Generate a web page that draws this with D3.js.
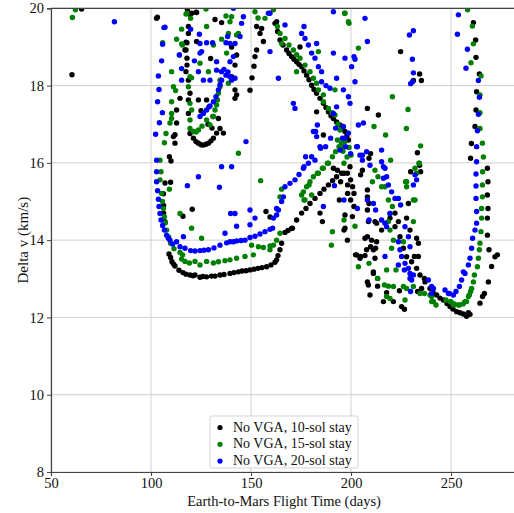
<!DOCTYPE html>
<html>
<head>
<meta charset="utf-8">
<script src="https://cdn.jsdelivr.net/npm/d3@7"></script>
<style>
  body { margin: 0; background: #fff; }
  text { font-family: "Liberation Serif", "Times New Roman", serif; fill: #111; }
</style>
</head>
<body>
<script>
// ---- data (flight time in days, delta v in km/s) ----
var seriesNames = ['No VGA, 10-sol stay', 'No VGA, 15-sol stay', 'No VGA, 20-sol stay'];
var seriesColors = ['#000000', '#008000', '#0000ff'];
var xTicks = [50, 100, 150, 200, 250];
var yTicks = [8, 10, 12, 14, 16, 18, 20];

var tenSol = [
  [60.5,18.28],[65.3,19.98],
  [102.8,19.74],[103.2,19.77],[118.2,19.96],[120.3,19.87],[122.8,19.89],[118.7,19.53],[118.7,19.35],[118,19.11],
  [122.8,19.14],[117.5,18.92],[118,18.71],[118,18.53],[117.5,18.36],[118.7,18.14],[114.5,17.67],[119.5,17.8],
  [118.7,17.63],[123.7,17.63],[127.8,17.63],[112.8,17.37],[118.7,17.28],[112.8,17.03],[112,16.73],[112,16.51],
  [109.2,16.16],[110,16.05],[132,19.71],[135.3,19.63],[140.3,18.23],[140.3,19.0],[142,18.53],[133.7,17.15],
  [136.2,16.77],[111.2,16.68],[119.5,19.84],[122.5,19.9],[117.5,19.12],[117,18.92],[129.8,18.7],
  [119.5,16.76],[121.2,16.64],[122.5,16.55],[123.7,16.51],[125,16.47],[126.2,16.46],[127.5,16.48],[128.7,16.51],
  [130,16.57],[131.2,16.64],[132.8,16.77],[134.5,16.89],[130.5,16.9],[128.5,17.0],[131,17.2],[129,17.45],[125,17.35],
  [107,15.48],[106.2,15.2],[106.3,14.9],[106.3,14.7],[107,14.48],[116,14.62],[120.6,14.8],[109.8,15.5],
  [109,13.64],[109.8,13.55],[110.5,13.44],[111.3,13.38],[112,13.33],[114,13.22],[116,13.16],[117.5,13.12],
  [119.5,13.1],[121,13.08],[122,13.1],[124.5,13.04],[126,13.06],[127.8,13.05],[130.3,13.07],[132,13.07],[134.5,13.1],
  [136.5,13.11],[139.5,13.14],[141.5,13.16],[143.7,13.18],[145.5,13.2],[147.5,13.21],[149.5,13.23],[151.5,13.25],
  [153.5,13.27],[155.5,13.29],[157.8,13.31],[160,13.36],[162,13.43],[162.8,13.49],[163.5,13.6],[164.5,13.75],[165.3,13.92],
  [167,14.2],[168.5,14.25],[170.3,14.3],[170.7,14.31],[172.8,14.52],[175.3,14.7],[177.5,14.82],[179.5,14.95],[182,15.08],
  [184.5,15.21],[186.5,15.32],[188.7,15.43],[190.8,15.54],[192.8,15.64],[195.3,15.73],[157.5,14.74],[159.5,14.6],
  [184.5,14.7],[185.7,14.48],
  [149.5,17.88],[150.5,18.2],[151.5,18.5],[152,18.75],[152.8,18.92],[152.8,19.53],[154.5,19.35],[156.2,19.14],
  [155.3,19.48],[162,19.61],[162.8,19.65],[163.3,19.4],[164.5,19.18],[166,19.05],[167.8,18.92],[169,18.83],
  [170.3,18.75],[171.5,18.68],[172.8,18.62],[174,18.55],[175.3,18.49],[176.5,18.38],[177.8,18.27],[179,18.15],
  [180.3,18.01],[181.5,17.9],[182.8,17.8],[184.5,17.67],[186.2,17.54],[187.5,17.43],[188.7,17.32],[190,17.22],
  [191.2,17.15],[192.8,17.06],[194.5,16.98],[195.8,16.9],[197,16.81],[198,16.7],[198.7,16.59],[174.5,19.0],
  [182.8,17.32],[186.2,16.72],[142.8,18.79],[142,17.89],[142,17.67],[142.8,17.76],
  [224.8,18.88],[234.3,18.3],[235.2,18.13],[231.2,18.13],[208.2,17.41],[213.7,17.24],[233.2,16.26],[234.3,15.94],
  [229.8,15.77],[234.8,15.77],[209.8,16.24],[209,16.12],[205.7,15.81],[204.8,15.69],[208.2,15.3],[208.2,15.12],
  [209,14.95],[208.2,14.78],[212,14.48],[215.3,14.26],[222,14.7],[223.7,14.48],[228.7,14.95],[227.8,14.57],
  [229.5,14.26],[232.8,14.05],[233.7,13.92],[231.7,13.58],[233.7,13.58],[208.2,14.09],[209.8,13.83],[212.3,13.79],
  [202.3,13.62],[204.8,13.58],[207,13.6],[198.2,14.0],[196.5,14.26],[194.8,15.51],[193.2,15.81],[196.5,15.73],
  [198.2,15.73],[199.5,15.9],[199.8,15.56],[200.8,15.38],[201.5,15.21],[199.8,15.04],[201.5,14.87],[200.7,14.61],
  [191.2,15.86],[198.3,15.43],[198.3,15.21],[194.2,15.04],[197,14.65],[197,14.31],[208.7,14.48],[212.8,14.44],
  [207,14.05],[210.3,14.0],[212.8,13.96],[207.8,13.75],[211.2,13.75],[202.8,13.62],[204.5,13.53],[212,13.53],
  [211.2,13.18],[208.7,12.84],[209.5,12.58],[213.3,13.01],[208.2,12.92],[211.2,13.14],[213.3,12.81],[216.2,12.41],
  [217.8,12.64],[221.2,12.41],[225.3,12.28],[226.7,12.21],[224.2,12.69],[233.3,12.67],[235.3,12.75],[236.7,13.01],
  [219.5,14.57],[222,14.35],[224.5,14.09],[226.2,13.79],[227.8,13.57],[230.3,13.44],[232.8,13.27],[234.5,13.1],
  [237,12.92],[239.5,12.75],[241,12.65],[242.8,12.58],[244.5,12.5],[246.2,12.45],[248,12.36],[249.5,12.28],
  [251,12.22],[252.8,12.15],[254.5,12.12],[256.2,12.09],[257.8,12.03],[258.7,12.12],[259.5,12.08],
  [264.5,12.37],[265.8,12.54],[266.7,12.62],[268.7,12.92],[270.3,13.32],[272,13.57],[273.2,13.62],[269,13.75],
  [268.2,14.13],[268.2,14.57],[268.5,14.82],[268.2,15.17],[268.5,15.51],[268.2,15.86],[259.8,16.12],[260.2,16.5],
  [262,16.94],[262.5,17.37],[262.8,17.84],[264.2,18.3],[262.5,18.73],[262.3,19.18],[261.2,19.63]
];

var fifteenSol = [
  [60.7,19.76],[62.2,19.96],
  [117.5,19.85],[105.8,19.11],[112.8,19.2],[115.3,19.08],[114.2,18.79],[110.3,18.36],[111.2,17.97],[112.3,17.87],
  [110.3,17.58],[110.3,17.28],[110.3,17.15],[109.5,17.03],[107.5,16.76],[106.7,16.52],[104.5,16.07],[105,15.77],
  [104.5,15.56],[105.3,15.21],[105.7,15.0],[106.2,14.82],[106.7,14.61],[107.2,14.45],[107.8,14.26],[108.8,14.08],
  [109.8,13.92],[111.5,13.78],[114.5,13.68],[115.8,13.62],[115.3,13.51],[117,13.45],[119.2,13.41],[122,13.45],
  [124.5,13.36],[127.8,13.45],[131.2,13.41],[133.7,13.44],[137,13.47],[139.5,13.49],[142.8,13.53],[147,13.58],
  [151.2,13.62],[153.7,13.83],[156.2,13.81],[159.5,13.85],[161.2,13.87],[162.8,14.0],[164.5,14.18],[159.5,13.75],
  [150.3,13.87],[125.3,14.05],[120.3,14.31],[114.5,14.69],[109.2,15.32],[165.3,15.32],[164.5,15.12],
  [175.3,15.17],[176.2,15.25],[177,15.04],[177.8,15.38],[179,15.43],[179.5,15.51],[180.3,15.17],[181.2,15.64],
  [183.2,15.73],[183.7,15.73],[185.7,15.86],[186.2,15.86],[188.2,15.99],[188.7,15.99],[190.7,16.16],[192.3,16.29],
  [194,16.42],[195.2,16.51],[176.5,15.04],[154.8,15.54],
  [119.5,17.54],[120.3,17.37],[119.5,17.11],[119.5,16.89],[121.2,16.81],[122.5,16.8],[123.7,16.85],[125.5,16.95],
  [127.8,17.11],[129.5,16.98],[131.2,17.2],[132,17.37],[132.8,17.5],[133.2,17.63],[133.7,17.8],[134.5,17.97],
  [134.8,18.14],[119.5,18.23],[118.7,17.97],
  [118,19.87],[119.8,19.74],[115.3,19.46],[127.8,19.53],[131.2,19.05],[137.5,19.8],[140.3,19.78],[135.3,19.2],
  [138.7,19.35],[142.8,19.31],[137.8,18.84],[124.5,18.58],[120.3,18.2],[134.5,18.14],[138.7,18.06],[128.7,18.36],
  [143.7,16.25],[139.5,19.65],[143.7,19.35],[127.5,19.98],[115.7,19.05],
  [152,19.91],[153.5,19.75],[157,19.74],[161.2,19.96],[163.2,19.53],[164.5,19.35],[167,19.22],[169,19.05],
  [171.2,18.92],[172.8,18.8],[174.5,18.71],[177,18.53],[179.5,18.36],[181.2,18.19],[182.8,18.06],[183.7,17.89],
  [186.2,17.76],[186.2,17.58],[188.7,17.41],[190.5,17.3],[192,17.24],[193.5,17.0],[194.5,16.85],[193.2,16.59],
  [195.8,16.42],[172.8,18.36],[165.3,19.09],[183.7,18.88],[192,17.89],[197,19.87],[198.7,19.65],[203.7,18.97],
  [196.8,19.87],[199,19.61],
  [196,16.3],[198,16.15],[197,16.55],[199,16.4],[200,16.2],
  [220.7,17.71],[228.5,17.38],[227.7,16.89],[211.5,16.94],[217.3,16.72],[234.8,16.44],[232,15.86],[232.8,15.73],
  [227.3,15.51],[232,15.04],[234,15.99],[219.8,16.07],[213.5,15.64],[210.7,15.51],[196.5,15.99],[215.3,15.38],
  [218.7,15.04],[220.7,14.87],[196.5,14.52],[202,14.36],[190.7,14.22],[190.2,13.87],
  [212,15.81],[217,15.38],[219.5,14.69],[218.7,14.48],[219.5,14.26],[221.2,14.0],[220.3,13.79],[226.2,13.96],
  [227.8,15.51],[227.8,15.38],[231.2,15.04],[231.2,14.48],[234.2,15.99],[222.5,13.23],[213.3,13.01],[216.7,12.84],
  [218.7,12.81],[221.2,12.8],[226.2,12.8],[227.8,12.75],[217.8,12.54],[227,12.45],[231.2,12.8],[234.5,12.62],
  [239.5,12.58],[240.3,12.41],[203.7,13.31],[217.8,13.23],[219.5,12.49],[236.7,12.62],[242.5,12.32],[209,13.4],
  [258.3,19.96],[260.7,19.54],[261.2,19.08],[260,18.59],[265,18.25],[264.5,17.76],[264.5,17.3],[264.5,16.89],
  [265.7,16.51],[266.2,16.15],[265.8,15.77],[265.7,15.43],[265.7,15.12],[265.3,14.82],[265.3,14.57],[265,14.22],
  [264.5,13.92],[264.2,13.75],[263.7,13.53],[263.2,13.31],[261.7,13.1],[261.2,12.92],[260.3,12.75],[259.8,12.67],
  [259.2,12.58],[258.7,12.54],[257.8,12.41],[257,12.41],[256,12.35],[254.2,12.32],[253.7,12.32],[251.7,12.35],
  [251.2,12.32],[250,12.41],[249.5,12.41],[247.5,12.45],[241.2,12.41],[240.3,12.54],[240.8,12.41]
];

var twentySol = [
  [81.7,19.65],
  [106.5,19.5],[105.8,19.07],[105.3,18.64],[103.7,18.25],[104,17.9],[103.3,17.58],[105.7,17.3],[104.2,17.04],
  [102.3,16.74],[102.8,16.07],[102.8,15.77],[102.8,15.51],[103.3,15.28],[103.7,15.06],[104,14.87],[104.5,14.69],
  [105,14.52],[105.8,14.38],[106.7,14.26],[107.8,14.13],[108.7,14.05],[109.5,14.0],[110.8,13.9],[112.8,13.96],
  [114.5,13.83],[117,13.79],[119.8,13.73],[122,13.72],[124.5,13.73],[126.5,13.74],[128.7,13.75],[131.5,13.8],
  [134.5,13.87],[137.8,13.93],[139.5,13.96],[141.2,13.96],[142.8,13.98],[145,13.99],[147,14.0],[149.5,14.07],
  [152,14.1],[154.5,14.16],[157,14.22],[159.5,14.28],[160.8,14.31],[161.2,14.57],[162.8,14.65],[163.7,14.78],
  [165.3,15.0],[166.2,15.12],[167,15.38],[169.5,15.47],[172,15.56],[174,15.7],[176.2,15.86],[178.7,15.99],
  [182,16.07],[184.8,16.38],[187.3,16.42],[189.8,16.64],[192.3,16.9],[195.7,16.64],[197.3,16.42],[199.8,16.24],
  [203.2,16.42],[205.7,16.2],[205.7,16.07],
  [142,14.69],[142.8,14.36],[149.5,14.78],[152,14.57],[149.5,14.4],[162.8,14.82],[186.2,14.87],[191.7,15.41],
  [123.7,15.64],[118.2,15.41],[134.2,15.37],[140.3,15.9],[139.8,14.69],[137,14.18],[116.2,14.09],[176.5,15.9],
  [177.3,16.16],[183.2,16.98],[182.3,16.81],[147.5,16.55],[135.3,15.9],
  [124.5,17.2],[126.2,17.28],[127.8,17.37],[129.5,17.47],[131.2,17.58],[132.5,17.71],[133.7,17.89],[134.5,18.02],
  [135.3,18.14],[132.8,18.4],[135.3,18.36],[136.5,18.42],[137.5,18.27],[138.5,18.35],[139.5,18.23],[140.3,18.14],
  [129.5,18.14],[126.2,18.14],[123.7,18.36],[115.3,18.14],[115.3,18.44],[121.7,18.64],[124.5,18.84],[114.2,18.79],
  [107,19.51],[124.2,19.33],[124.5,19.09],[127.8,19.11],[132.8,18.62],[137.5,19.11],[139.5,18.62],[142,19.09],
  [146.2,19.78],[145.3,19.61],[144.5,19.27],[141.2,18.75],[142,18.19],[139.5,19.09],[141.2,20.0],
  [119.8,19.46],[125.3,18.88],[130.8,19.11],[138.3,19.27],
  [158.7,19.87],[159.5,18.88],[159.5,19.87],[167,19.57],[175.3,19.35],[176.5,19.53],[177,19.22],[178.7,19.05],
  [180.3,18.84],[182,18.71],[183.7,18.49],[185.3,18.36],[185.3,18.1],[187.5,18.0],[189.5,17.93],[192.8,18.19],
  [196.2,17.89],[198.7,17.71],[199.5,17.54],[192.8,17.45],[191.2,17.28],[196.2,16.94],[198.7,16.77],[197,16.64],
  [181.2,16.81],[182.8,16.68],[184.5,16.42],[180.3,16.16],[171.2,17.54],[172,17.41],[163.7,18.19],[191.2,18.84],
  [197,18.71],[202,18.68],[200.3,18.49],[202,18.1],[191.2,19.91],[207,19.74],[182.8,19.09],[194.5,16.33],
  [202.8,16.42],[204.5,16.2],[207.8,16.29],[206.2,17.03],[203.7,16.98],[201.5,18.75],[208.2,19.14],
  [215.3,16.33],[215.3,16.03],[216.2,15.9],[217.8,15.64],[218.7,15.43],[220.3,15.25],[222,15.08],[224.8,14.91],
  [196.5,15.04],[203.2,14.82],[209,14.52],[208.2,15.04],[212.3,14.78],[215.3,14.52],[217.8,14.35],[209.5,15.94],
  [217,15.86],[216.2,15.6],[223.7,15.08],[219.5,14.69],[217,14.44],[223.7,13.96],[224.5,13.75],[225.3,13.58],
  [227,13.4],[228.7,13.27],[229.5,13.14],[231.2,13.1],[230.3,12.97],[238.7,12.97],[240.3,12.8],[217,13.58],
  [211.2,14.95],[232,15.69],[232.8,15.56],[231.2,15.43],[223.7,13.36],[226.7,13.23],[229.5,13.01],[229.8,12.67],
  [241.2,12.75],[240.3,12.62],[227,14.35],[228.7,14.09],[229.5,13.83],
  [231.2,19.42],[229.2,19.31],[230.7,18.68],[231.2,18.33],[230.8,18.1],[229.8,18.05],[253.7,19.83],[253.2,19.33],
  [258.2,18.94],[257.5,18.45],[263.7,18.13],[264.2,17.7],[263.7,17.26],[263.2,16.83],[262.8,16.42],[262.8,16.03],
  [262.5,15.71],[262.5,15.4],[262.5,15.08],[262.8,14.74],[262.8,14.44],[262,14.26],[260.8,14.05],[260.3,13.79],
  [259.5,13.53],[258.7,13.36],[257,13.14],[255.3,12.97],[254.2,12.8],[252.5,12.67],[251.2,12.58],[249.2,12.62],
  [247,12.71],[248.7,12.62],[256.2,13.18]
];

var allSeries = [tenSol, fifteenSol, twentySol];

// ---- layout ----
var width = 514, height = 513;
var margin = {top: 8.3, left: 51, bottom: 41};
var plotBottom = height - margin.bottom;

var svg = d3.select('body').append('svg')
  .attr('width', width).attr('height', height);

var x = d3.scaleLinear().domain([50, 282]).range([margin.left, margin.left + 2 * 232]);
var y = d3.scaleLinear().domain([8, 20]).range([plotBottom, margin.top]);

svg.append('clipPath').attr('id', 'plotclip')
  .append('rect')
  .attr('x', x(50)).attr('y', y(20))
  .attr('width', x(282) - x(50)).attr('height', y(8) - y(20));

// grid lines
svg.append('g').selectAll('line').data(xTicks).enter().append('line')
  .attr('x1', function (d) { return x(d); }).attr('x2', function (d) { return x(d); })
  .attr('y1', y(8)).attr('y2', y(20))
  .attr('stroke', '#cfcfcf').attr('stroke-width', 1);
svg.append('g').selectAll('line').data(yTicks).enter().append('line')
  .attr('x1', x(50)).attr('x2', x(282))
  .attr('y1', function (d) { return y(d); }).attr('y2', function (d) { return y(d); })
  .attr('stroke', '#cfcfcf').attr('stroke-width', 1);

// points: black, then green, then blue on top
var plot = svg.append('g').attr('clip-path', 'url(#plotclip)');
allSeries.forEach(function (data, i) {
  plot.append('g').selectAll('circle').data(data).enter().append('circle')
    .attr('cx', function (d) { return x(d[0]); })
    .attr('cy', function (d) { return y(d[1]); })
    .attr('r', 2.7)
    .attr('fill', seriesColors[i]);
});

// axes
var xAxis = svg.append('g').attr('transform', 'translate(0,' + plotBottom + ')')
  .call(d3.axisBottom(x).tickValues(xTicks).tickSize(4).tickPadding(2));
var yAxis = svg.append('g').attr('transform', 'translate(' + margin.left + ',0)')
  .call(d3.axisLeft(y).tickValues(yTicks).tickSize(4).tickPadding(3));
[xAxis, yAxis].forEach(function (g) {
  g.select('.domain').attr('stroke', '#444').attr('stroke-width', 1.2);
  g.selectAll('.tick line').attr('stroke', '#444');
  g.selectAll('.tick text').style('font-family', '"Liberation Serif", serif')
    .style('font-size', '14.5px').attr('fill', '#111');
});
// top spine
svg.append('line')
  .attr('x1', x(50)).attr('x2', width).attr('y1', y(20)).attr('y2', y(20))
  .attr('stroke', '#444').attr('stroke-width', 1.2);

// axis labels
svg.append('text')
  .attr('x', 284).attr('y', 505.5)
  .attr('text-anchor', 'middle')
  .style('font-size', '14.5px')
  .text('Earth-to-Mars Flight Time (days)');
svg.append('text')
  .attr('transform', 'translate(28,' + ((y(8) + y(20)) / 2) + ') rotate(-90)')
  .attr('text-anchor', 'middle')
  .style('font-size', '15px')
  .text('Delta v (km/s)');

// legend
var legend = svg.append('g').attr('transform', 'translate(210,416)');
legend.append('rect')
  .attr('width', 148).attr('height', 52).attr('rx', 2)
  .attr('fill', '#fff').attr('fill-opacity', 0.85)
  .attr('stroke', '#d5d5d5');
seriesNames.forEach(function (name, i) {
  var row = legend.append('g').attr('transform', 'translate(0,' + (10 + i * 16.8) + ')');
  row.append('circle').attr('cx', 10).attr('cy', 1.5).attr('r', 2.6).attr('fill', seriesColors[i]);
  row.append('text').attr('x', 23).attr('y', 5.5)
    .style('font-size', '14px').text(name);
});
</script>
</body>
</html>
